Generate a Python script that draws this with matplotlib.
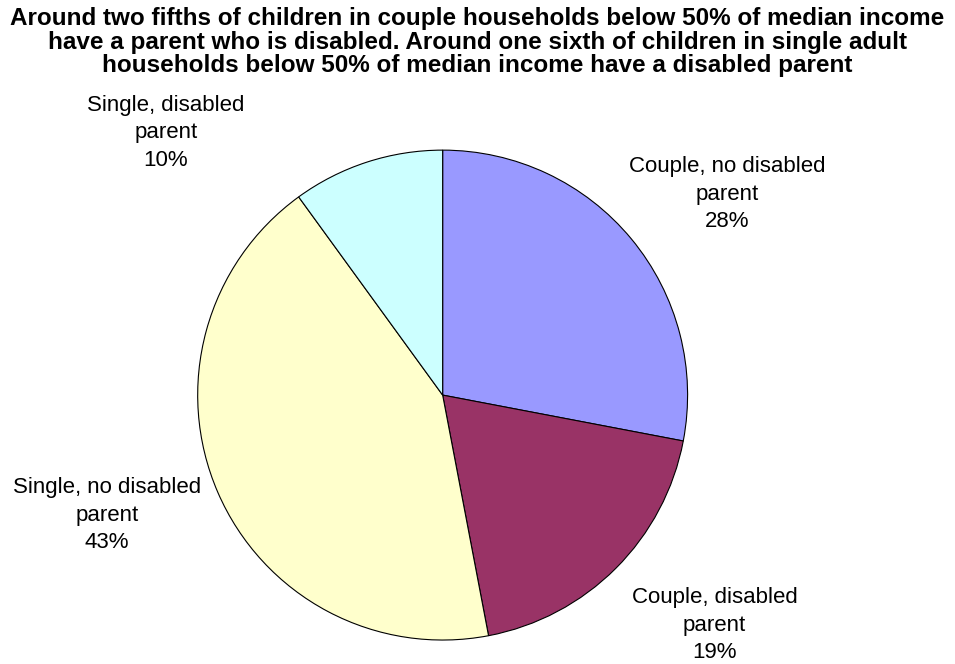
import matplotlib.pyplot as plt
import numpy as np

plt.rcParams['font.family'] = ['Liberation Sans', 'DejaVu Sans']

labels = ["Couple, no disabled\nparent", "Couple, disabled\nparent",
          "Single, no disabled\nparent", "Single, disabled\nparent"]
shares = [28, 19, 43, 10]
colors = ["#9999FF", "#993366", "#FFFFCC", "#CCFFFF"]
# label offsets from centre, in radius units
label_pos = [(1.16, 0.82), (1.11, -0.94), (-1.37, -0.49), (-1.13, 1.07)]

title = ("Around two fifths of children in couple households below 50% of median income\n"
         "have a parent who is disabled. Around one sixth of children in single adult\n"
         "households below 50% of median income have a disabled parent")

fig = plt.figure(figsize=(9.55, 6.64), dpi=100)
ax = fig.add_axes([0.207, 0.036, 0.513, 0.738])
wedges, _ = ax.pie(shares, colors=colors, startangle=90, counterclock=False,
                   wedgeprops=dict(edgecolor="black", linewidth=0.8))
ax.set_xlim(-1, 1)
ax.set_ylim(-1, 1)
ax.set_aspect("equal")

for lab, v, (x, y) in zip(labels, shares, label_pos):
    ax.text(x, y, "{}\n{}%".format(lab, v), ha="center", va="center",
            fontsize=16, linespacing=1.4, clip_on=False)

fig.text(0.5, 0.99, title, ha="center", va="top", fontsize=17.5,
         fontweight="bold", linespacing=1.05)

fig.savefig("out.png", dpi=100)
